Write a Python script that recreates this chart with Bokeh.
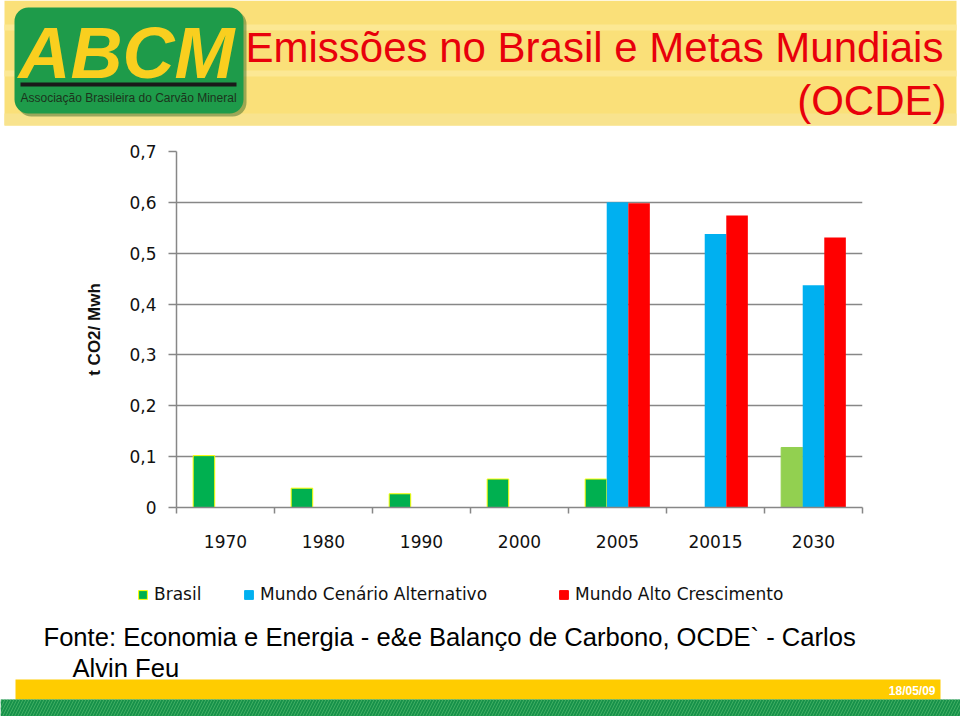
from bokeh.plotting import figure
from bokeh.models import (Range1d, FixedTicker, CustomJSTickFormatter, Legend,
                          LegendItem, ColumnDataSource)
from bokeh.core.properties import value
from bokeh.embed import file_html
from bokeh.resources import INLINE

# ---------------- data ----------------
categories = ["1970", "1980", "1990", "2000", "2005", "20015", "2030"]
brasil = [0.102, 0.038, 0.027, 0.056, 0.056, None, 0.118]
brasil_fill = ["#00B050", "#00B050", "#00B050", "#00B050", "#00B050", None, "#92D050"]
brasil_line = ["#FFFF00", "#FFFF00", "#FFFF00", "#FFFF00", "#FFFF00", None, "#92D050"]
mundo_alternativo = [None, None, None, None, 0.600, 0.538, 0.437]
mundo_alto = [None, None, None, None, 0.598, 0.574, 0.531]
y_ticks = [0.0, 0.1, 0.2, 0.3, 0.4, 0.5, 0.6, 0.7]
series_names = ["Brasil", "Mundo Cenário Alternativo", "Mundo Alto Crescimento"]
series_colors = ["#00B050", "#00B0F0", "#FF0000"]
series_lines = ["#FFFF00", "#00B0F0", "#FF0000"]
title_line1 = "Emissões no Brasil e Metas Mundiais"
title_line2 = "(OCDE)"
y_label = "t CO2/ Mwh"
source_line1 = "Fonte: Economia e Energia - e&e Balanço de Carbono, OCDE` - Carlos"
source_line2 = "Alvin Feu"
date_text = "18/05/09"
logo_text = "ABCM"
logo_sub = "Associação Brasileira do Carvão Mineral"

FONT = "Liberation Sans"
WIDE = "DejaVu Sans"
W = 960

def blank_fig(height, y_top, y_bottom):
    f = figure(width=W, height=height, x_range=Range1d(0, W),
               y_range=Range1d(y_bottom, y_top), output_backend="svg",
               toolbar_location=None, x_axis_type=None, y_axis_type=None,
               min_border=0, outline_line_color=None)
    f.grid.visible = False
    return f

# ---------------- header ----------------
h = blank_fig(126, 0, 126)
h.quad(left=[4], right=[956], top=[0], bottom=[125], fill_color="#FAE079", line_color=None)
h.quad(left=[4], right=[956], top=[24], bottom=[30], fill_color="#FCE894", line_color=None)
h.quad(left=[4], right=[956], top=[70], bottom=[76], fill_color="#FCE894", line_color=None)
h.quad(left=[4], right=[956], top=[113], bottom=[125], fill_color="#F8E38E", line_color=None)
# logo
h.quad(left=[17], right=[246], top=[10], bottom=[116], fill_color="#3F6B2A",
       line_color=None, border_radius=14, fill_alpha=0.5)
h.quad(left=[14], right=[243], top=[7], bottom=[113], fill_color="#1E9B4A",
       line_color=None, border_radius=14)
h.text(x=[126], y=[52], text=[logo_text], text_font=value(FONT),
       text_font_style="bold italic", text_font_size=value("72px"),
       text_color="#F9CF1F", text_align="center", text_baseline="middle")
h.quad(left=[20], right=[236], top=[82], bottom=[86], fill_color="#1A1A1A", line_color=None)
h.text(x=[128], y=[97], text=[logo_sub], text_font=value(FONT),
       text_font_size=value("12px"), text_color="#1C331C",
       text_align="center", text_baseline="middle")
# title
h.text(x=[245], y=[47], text=[title_line1], text_font=value(FONT),
       text_font_size=value("42px"), text_color="#E8000B",
       text_align="left", text_baseline="middle")
h.text(x=[946], y=[100], text=[title_line2], text_font=value(FONT),
       text_font_size=value("42px"), text_color="#E8000B",
       text_align="right", text_baseline="middle")

# ---------------- chart ----------------
p = figure(width=W, height=452, x_range=Range1d(0, len(categories)),
           y_range=Range1d(0, 0.7), output_backend="svg", toolbar_location=None,
           min_border_left=176, min_border_right=98, min_border_top=25,
           min_border_bottom=71, outline_line_color=None)

bw = 0.22
idx = list(range(len(categories)))
b_src = ColumnDataSource(dict(
    x=[i + 0.5 - bw for i, v in zip(idx, brasil) if v is not None],
    top=[v for v in brasil if v is not None],
    fill=[c for c in brasil_fill if c is not None],
    line=[c for c in brasil_line if c is not None]))
a_src = ColumnDataSource(dict(
    x=[i + 0.5 for i, v in zip(idx, mundo_alternativo) if v is not None],
    top=[v for v in mundo_alternativo if v is not None]))
r_src = ColumnDataSource(dict(
    x=[i + 0.5 + bw for i, v in zip(idx, mundo_alto) if v is not None],
    top=[v for v in mundo_alto if v is not None]))

p.vbar(x="x", top="top", bottom=0, width=bw, source=b_src,
       fill_color="fill", line_color="line", line_width=1)
p.vbar(x="x", top="top", bottom=0, width=bw, source=a_src,
       fill_color=series_colors[1], line_color=None)
p.vbar(x="x", top="top", bottom=0, width=bw, source=r_src,
       fill_color=series_colors[2], line_color=None)

GRAY = "#878787"
p.ygrid.grid_line_color = GRAY
p.ygrid.grid_line_width = 1.5
p.xgrid.grid_line_color = None
p.yaxis.ticker = FixedTicker(ticks=y_ticks)
p.yaxis.formatter = CustomJSTickFormatter(
    code="if (Math.abs(tick) < 1e-9) { return '0'; } return tick.toFixed(1).replace('.', ',');")
p.xaxis.ticker = FixedTicker(ticks=[i + 0.5 for i in idx],
                             minor_ticks=list(range(len(categories) + 1)))
p.xaxis.formatter = CustomJSTickFormatter(args=dict(labels=categories),
                                          code="return labels[Math.floor(tick)];")
for ax in (p.xaxis[0], p.yaxis[0]):
    ax.axis_line_color = GRAY
    ax.axis_line_width = 1.5
    ax.major_label_text_font = WIDE
    ax.major_label_text_color = "#111111"
p.xaxis.major_tick_line_color = None
p.xaxis.major_tick_out = 6
p.xaxis.minor_tick_line_color = GRAY
p.xaxis.minor_tick_line_width = 1.5
p.xaxis.minor_tick_out = 6
p.xaxis.minor_tick_in = 0
p.xaxis.major_label_standoff = 21
p.xaxis.major_label_text_font_size = "17px"
p.yaxis.major_tick_line_color = GRAY
p.yaxis.major_tick_line_width = 1.5
p.yaxis.major_tick_out = 8
p.yaxis.major_tick_in = 0
p.yaxis.minor_tick_line_color = None
p.yaxis.major_label_standoff = 12
p.yaxis.major_label_text_font_size = "17px"
p.yaxis.axis_label = y_label
p.yaxis.axis_label_text_font = FONT
p.yaxis.axis_label_text_font_style = "bold"
p.yaxis.axis_label_text_font_size = "17px"
p.yaxis.axis_label_text_color = "#111111"
p.yaxis.axis_label_standoff = 22

# ---------------- footer (legend + source) ----------------
f = blank_fig(138, 578, 716)
legend_x = [137, 243, 558]
for name, fc, lc, lx in zip(series_names, series_colors, series_lines, legend_x):
    # tiny sample hidden under the yellow band, so the legend swatch takes the series style
    dummy = f.vbar(x=[500], top=[690], bottom=[689], width=1,
                   fill_color=fc, line_color=lc, line_width=1)
    leg = Legend(items=[LegendItem(label=name, renderers=[dummy], index=0)],
                 location=(lx, 112), orientation="horizontal",
                 glyph_width=11, glyph_height=11, label_standoff=6,
                 label_height=20, padding=0, margin=0, border_line_color=None,
                 background_fill_alpha=0, label_text_font=WIDE,
                 label_text_font_size="17px", label_text_color="#111111")
    f.add_layout(leg)

f.text(x=[43], y=[636], text=[source_line1], text_font=value(FONT),
       text_font_size=value("25.6px"), text_color="#000000",
       text_align="left", text_baseline="middle")
f.text(x=[72], y=[667], text=[source_line2], text_font=value(FONT),
       text_font_size=value("25.6px"), text_color="#000000",
       text_align="left", text_baseline="middle")
f.quad(left=[15], right=[940], top=[679], bottom=[699], fill_color="#FFCC00", line_color=None)
f.quad(left=[0], right=[960], top=[699], bottom=[716], fill_color="#17914A",
       line_color=None, hatch_pattern="right_diagonal_line",
       hatch_color="#3FAE62", hatch_scale=6, hatch_weight=1)
f.text(x=[935], y=[690], text=[date_text], text_font=value(FONT),
       text_font_style="bold", text_font_size=value("12px"), text_color="#FFFFFF",
       text_align="right", text_baseline="middle")

open("out.html", "w").write(file_html([h, p, f], INLINE))
